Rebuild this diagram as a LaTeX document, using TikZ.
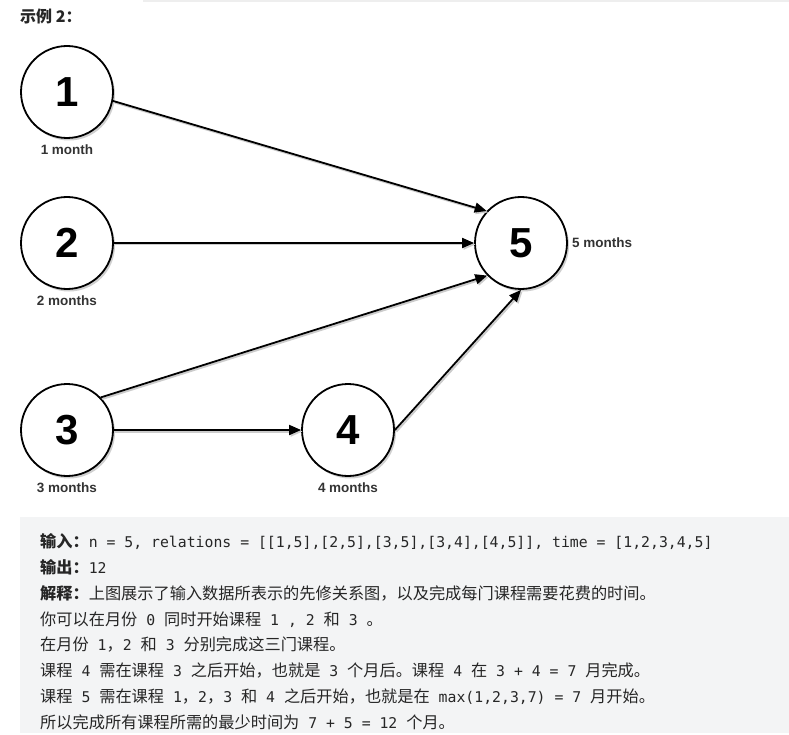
\documentclass[tikz,border=0pt]{standalone}
\usepackage{fontspec}
\setmainfont{Noto Sans CJK SC}
\newfontfamily\labfont{Liberation Sans}
\newfontfamily\codefont{DejaVu Sans Mono}
\usetikzlibrary{arrows.meta,shadows}
\definecolor{txt}{HTML}{262626}
\definecolor{boxbg}{HTML}{F3F4F5}
\definecolor{topbar}{HTML}{EEEEEE}
\newcommand\cd[1]{{\codefont\fontsize{14.8}{18}\selectfont#1}}
\begin{document}
\begin{tikzpicture}[x=1pt,y=-1pt,
 circ/.style={circle,draw=black,line width=1.8pt,fill=white,minimum size=92pt,inner sep=0pt,
   font=\labfont\bfseries\fontsize{42}{42}\selectfont,
   drop shadow={shadow xshift=2pt,shadow yshift=-2.5pt,fill=black!30,opacity=0.6}},
 lab/.style={font=\labfont\bfseries\fontsize{13.5}{15}\selectfont, text=black!80, inner sep=0pt},
 edge/.style={line width=1.8pt, -{Triangle[length=12pt,width=10pt]},
   preaction={draw=black!20, line width=2pt, transform canvas={shift={(1.5pt,-1.5pt)}}}},
 txtline/.style={anchor=base west, inner sep=0pt, text=txt, font=\fontsize{16.2}{20}\selectfont}
]
\useasboundingbox (0,0) rectangle (789,735);
\fill[white] (0,0) rectangle (789,735);
\fill[topbar] (143,0) rectangle (789,2.5);
\fill[boxbg] (20,517) rectangle (789,733);

\node[txtline, font=\bfseries\fontsize{16}{20}\selectfont] (head) at (20,23) {示例 2：};

\node[circ] (n1) at (67,92) {1};
\node[circ] (n2) at (67,243) {2};
\node[circ] (n3) at (67,430) {3};
\node[circ] (n4) at (348,430) {4};
\node[circ] (n5) at (521,243) {5};

\node[lab] (l1) at (67,150) {1 month};
\node[lab] (l2) at (67,301) {2 months};
\node[lab] (l3) at (67,488) {3 months};
\node[lab] (l4) at (348,488) {4 months};
\node[lab, anchor=west] (l5) at (572,243) {5 months};

\draw[edge] (n1.-11) -- (n5.137);
\draw[edge] (n2.east) -- (n5.west);
\draw[edge] (n3.44) -- (n5.224);
\draw[edge] (n3.east) -- (n4.west);
\draw[edge] (n4.east) -- (n5.south);

\node[txtline] (t1) at (40,547.7) {{\bfseries 输入：}\cd{n = 5, relations = [[1,5],[2,5],[3,5],[3,4],[4,5]], time = [1,2,3,4,5]}};
\node[txtline] (t2) at (40,573.5) {{\bfseries 输出：}\cd{12}};
\node[txtline] (t3) at (40,599.2) {{\bfseries 解释：}上图展示了输入数据所表示的先修关系图，以及完成每门课程需要花费的时间。};
\node[txtline] (t4) at (40,625) {你可以在月份\cd{\ 0\ }同时开始课程\cd{\ 1\ ,\ 2\ }和\cd{\ 3\ }。};
\node[txtline] (t5) at (40,650.7) {在月份\cd{\ 1}，\cd{2\ }和\cd{\ 3\ }分别完成这三门课程。};
\node[txtline] (t6) at (40,676.5) {课程\cd{\ 4\ }需在课程\cd{\ 3\ }之后开始，也就是\cd{\ 3\ }个月后。课程\cd{\ 4\ }在\cd{\ 3 + 4 = 7\ }月完成。};
\node[txtline] (t7) at (40,702.2) {课程\cd{\ 5\ }需在课程\cd{\ 1}，\cd{2}，\cd{3\ }和\cd{\ 4\ }之后开始，也就是在\cd{\ max(1,2,3,7) = 7\ }月开始。};
\node[txtline] (t8) at (40,728) {所以完成所有课程所需的最少时间为\cd{\ 7 + 5 = 12\ }个月。};
\end{tikzpicture}
\end{document}
